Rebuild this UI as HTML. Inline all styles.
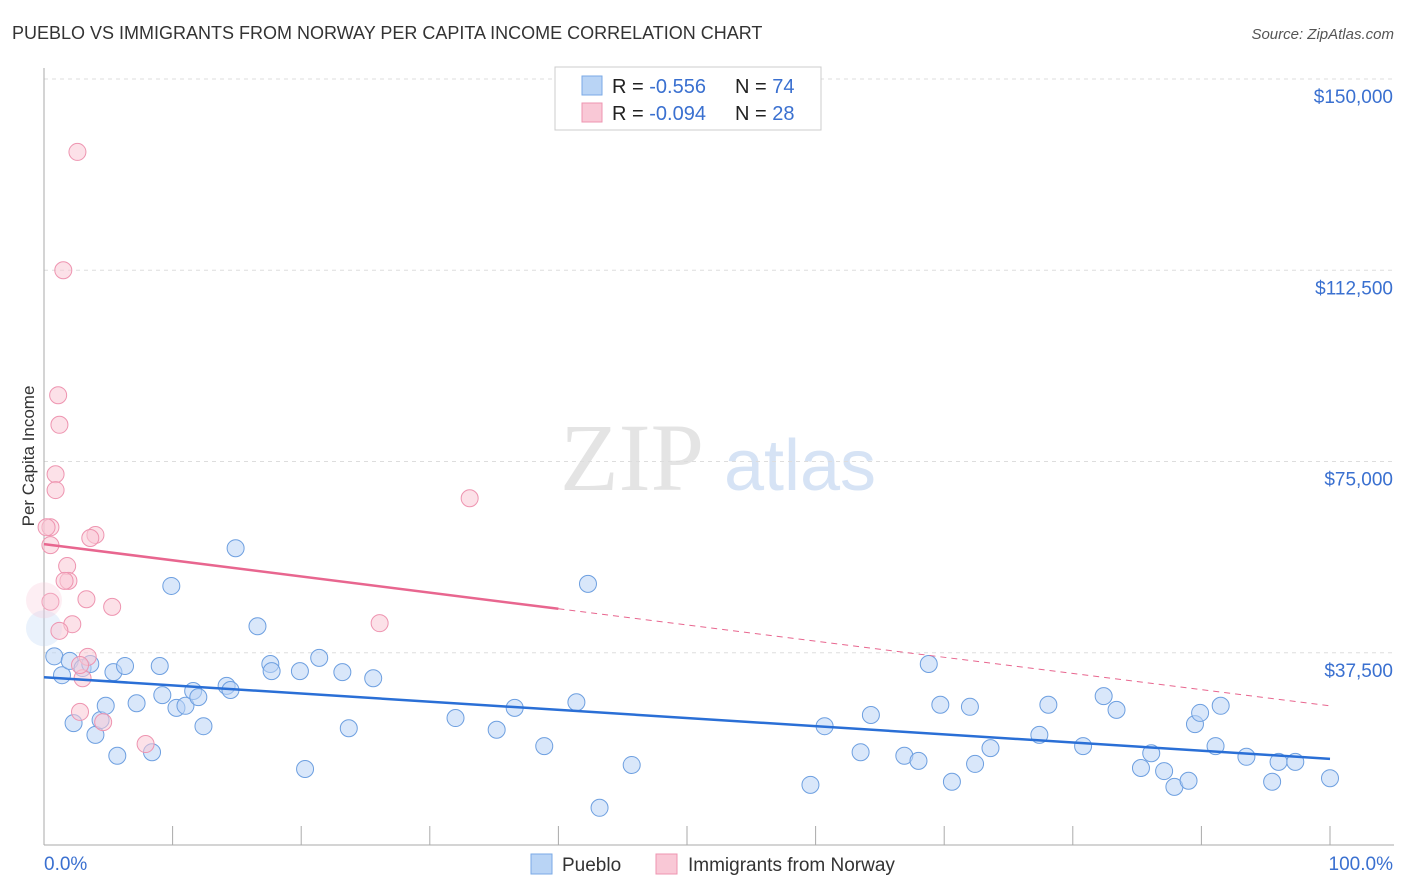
<!DOCTYPE html>
<html><head><meta charset="utf-8"><style>
body{margin:0;background:#fff;font-family:"Liberation Sans",sans-serif;}
svg{display:block}
</style></head><body>
<svg id="c" width="1406" height="892" xmlns="http://www.w3.org/2000/svg">
<text x="12" y="39" font-size="18" fill="#333">PUEBLO VS IMMIGRANTS FROM NORWAY PER CAPITA INCOME CORRELATION CHART</text>
<text x="1394" y="39" font-size="15" fill="#555" text-anchor="end" font-style="italic">Source: ZipAtlas.com</text>
<text x="632" y="490" font-size="96" fill="#e4e4e4" font-family="Liberation Serif,serif" text-anchor="middle">ZIP</text>
<text x="800" y="490" font-size="72" fill="#d6e3f5" text-anchor="middle">atlas</text>
<text transform="translate(34,456) rotate(-90)" font-size="17" fill="#333" text-anchor="middle">Per Capita Income</text>
<g id="axes"></g><g id="marks"></g>
<g>
<rect x="555" y="67" width="266" height="63" fill="#fff" stroke="#ccc"/>
<rect x="582" y="76" width="20" height="19" fill="#b9d4f5" stroke="#7aa9e6"/>
<rect x="582" y="103" width="20" height="19" fill="#f9c8d6" stroke="#ee94b0"/>
<text x="612" y="93" font-size="20" fill="#222">R = <tspan fill="#3a70d0">-0.556</tspan><tspan x="735">N = </tspan><tspan fill="#3a70d0">74</tspan></text>
<text x="612" y="120" font-size="20" fill="#222">R = <tspan fill="#3a70d0">-0.094</tspan><tspan x="735">N = </tspan><tspan fill="#3a70d0">28</tspan></text>
</g>
<g>
<rect x="531" y="854" width="21" height="20" fill="#b9d4f5" stroke="#7aa9e6"/>
<text x="562" y="871" font-size="19" fill="#333">Pueblo</text>
<rect x="656" y="854" width="21" height="20" fill="#f9c8d6" stroke="#ee94b0"/>
<text x="688" y="871" font-size="19" fill="#333">Immigrants from Norway</text>
</g>
</svg>
<script>
const yTicks=[37500,75000,112500,150000];
const yTickLabels=["$37,500","$75,000","$112,500","$150,000"];
const xEndLabels=["0.0%","100.0%"];
const bluePct=[0.8,1.4,2.0,2.3,3.0,3.6,4.0,4.4,4.8,5.4,5.7,6.3,7.2,8.4,9.0,9.2,9.9,10.3,11.0,11.6,12.0,12.4,14.2,14.5,14.9,16.6,17.6,17.7,19.9,20.3,21.4,23.2,23.7,25.6,32.0,35.2,36.6,38.9,41.4,42.3,43.2,45.7,59.6,60.7,63.5,64.3,66.9,68.0,68.8,69.7,70.6,72.0,72.4,73.6,77.4,78.1,80.8,82.4,83.4,85.3,86.1,87.1,87.9,89.0,89.5,89.9,91.1,91.5,93.5,95.5,96.0,97.3,100.0,0];
const blueIncome=[36.8,33.1,35.9,23.7,34.5,35.3,21.4,24.3,27.1,33.7,17.3,34.9,27.6,18.0,34.9,29.2,50.6,26.7,27.1,30.0,28.8,23.1,31.0,30.2,58.0,42.7,35.3,33.9,33.9,14.7,36.5,33.7,22.7,32.5,24.7,22.4,26.7,19.2,27.8,51.0,7.1,15.5,11.6,23.1,18.0,25.3,17.3,16.3,35.3,27.3,12.2,26.9,15.7,18.8,21.4,27.3,19.2,29.0,26.3,14.9,17.8,14.3,11.2,12.4,23.5,25.7,19.2,27.1,17.1,12.2,16.1,16.1,12.9,42.3];
const pinkPct=[2.6,1.5,1.1,1.2,0.9,0.9,0.5,0.2,0.5,4.0,3.6,1.8,1.9,1.6,3.3,5.3,0.5,2.2,1.2,3.4,3.0,2.8,4.6,7.9,33.1,26.1,2.8,0];
const pinkIncome=[135.7,112.5,88.0,82.2,72.5,69.4,62.1,62.1,58.6,60.6,60.0,54.5,51.6,51.6,48.0,46.5,47.5,43.1,41.8,36.7,32.5,25.9,23.9,19.6,67.8,43.3,35.1,47.8];
const blueTrend=[32.7,16.7];
const pinkTrend=[58.8,27.1];
const pinkSolidEnd=40;
const X=p=>44+p*12.86, Y=k=>844-k*1000/196.08;
const NS="http://www.w3.org/2000/svg";
const ax=document.getElementById('axes'), mk=document.getElementById('marks');
function el(t,a,p){const e=document.createElementNS(NS,t);for(const k in a)e.setAttribute(k,a[k]);p.appendChild(e);return e;}
yTicks.forEach((v,i)=>{
  const g=el('line',{x1:44,x2:1394,y1:Y(v/1000),y2:Y(v/1000),stroke:'#ddd','stroke-dasharray':'4,4'},ax);
  
  
  const t=el('text',{x:1393,y:Y(v/1000)+24,'font-size':19,fill:'#3a70d0','text-anchor':'end'},ax);
  t.textContent=yTickLabels[i];
  
  
});
const a1=el('line',{x1:44,x2:44,y1:68,y2:845,stroke:'#aaa'},ax);


const a2=el('line',{x1:44,x2:1394,y1:845,y2:845,stroke:'#aaa'},ax);


for(let i=0;i<=10;i++){const t=el('line',{x1:X(i*10),x2:X(i*10),y1:826,y2:845,stroke:'#aaa'},ax);
  
  }
[[0,'start',44],[1,'end',1393]].forEach(([i,an,x])=>{const t=el('text',{x:x,y:870,'font-size':19,fill:'#3a70d0','text-anchor':an},ax);t.textContent=xEndLabels[i];
  
  });
function pts(px,py,fill,stroke,name,bigIdx){
  px.forEach((p,i)=>{const big=(i===bigIdx);const r=big?18:8.5;
    const c=el('circle',{cx:X(p),cy:Y(py[i]),r:r,fill:fill,'fill-opacity':big?0.3:0.55,stroke:big?'none':stroke,'stroke-width':1},mk);
    
    });
}
pts(bluePct,blueIncome,'#b9d4f5','#6d9fe0','pueblo-point',73);
pts(pinkPct,pinkIncome,'#f9c8d6','#ee94b0','norway-point',27);
const bt=el('line',{x1:X(0),y1:Y(blueTrend[0]),x2:X(100),y2:Y(blueTrend[1]),stroke:'#2a6fd6','stroke-width':2.5},mk);


const pm=pinkTrend[0]+(pinkTrend[1]-pinkTrend[0])*pinkSolidEnd/100;
const pt=el('line',{x1:X(0),y1:Y(pinkTrend[0]),x2:X(pinkSolidEnd),y2:Y(pm),stroke:'#e8668f','stroke-width':2.5},mk);


const pd=el('line',{x1:X(pinkSolidEnd),y1:Y(pm),x2:X(100),y2:Y(pinkTrend[1]),stroke:'#e8668f','stroke-width':1,'stroke-dasharray':'6,5'},mk);


</script>
</body></html>
